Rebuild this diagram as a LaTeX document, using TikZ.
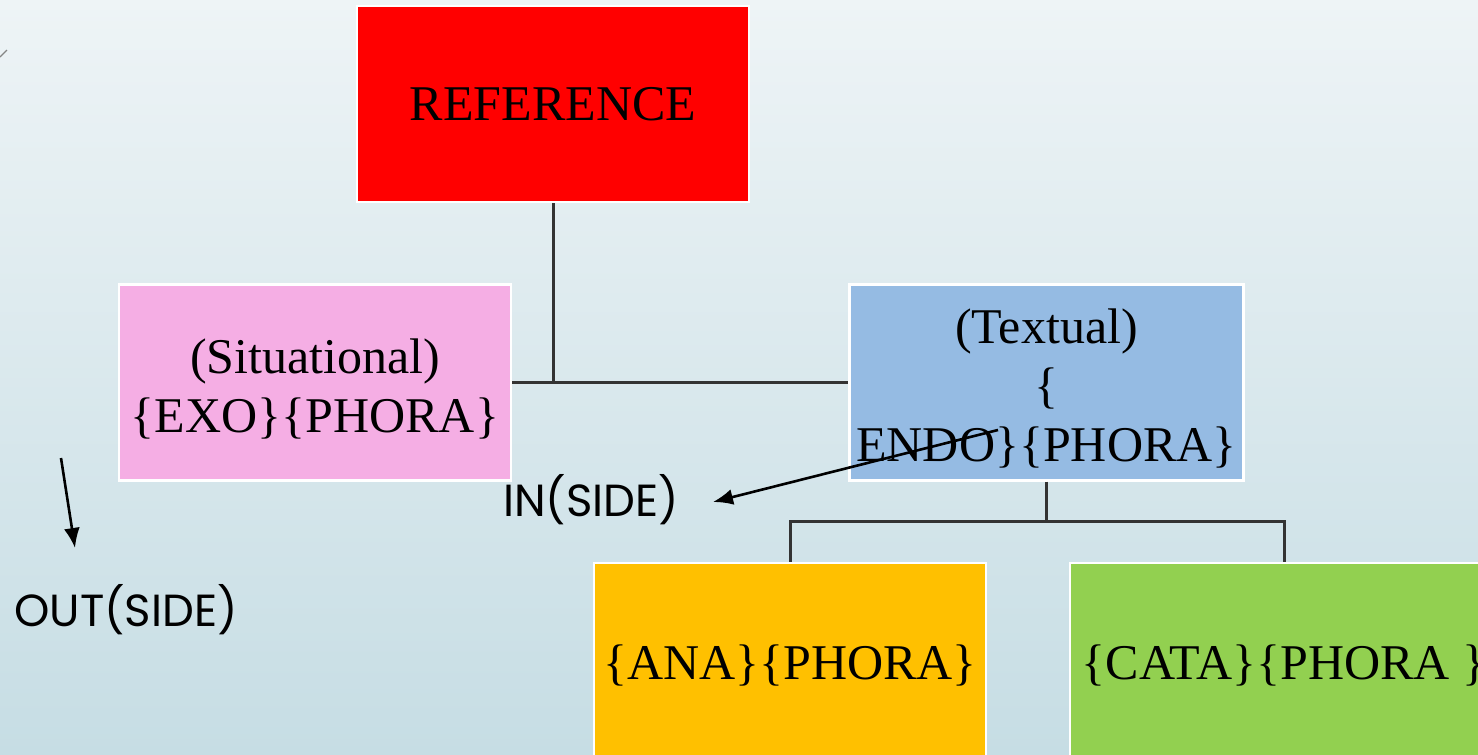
\documentclass[tikz,border=0pt]{standalone}
\usepackage{fontspec}
\setmainfont{Liberation Serif}
\newfontfamily\sidefont{Poppins}
\usetikzlibrary{arrows.meta}
\definecolor{bgtop}{HTML}{EEF4F6}
\definecolor{bgbot}{HTML}{C6DDE4}
\definecolor{refred}{HTML}{FF0000}
\definecolor{exopink}{HTML}{F5AEE4}
\definecolor{endoblue}{HTML}{95BBE3}
\definecolor{anaorange}{HTML}{FFC000}
\definecolor{catagreen}{HTML}{92D050}
\definecolor{linegray}{HTML}{333333}
\newcommand{\lowline}[1]{\raisebox{-3pt}[\height][\depth]{#1}}
\tikzset{
    block/.style = {draw=white, line width=1.2pt, rectangle,
        minimum height=98pt,
        minimum width=196pt, align=center,
        font=\fontsize{25}{29.5}\selectfont},
    link/.style = {draw=linegray, line width=1.5pt},
    arrow/.style = {draw, -{Latex[length=10pt,width=8pt]}, line width=1.3pt},
    side/.style = {font=\sidefont\fontsize{22.5}{27}\selectfont}
}

\begin{document}
\begin{tikzpicture}[x=0.5pt, y=-0.5pt]
        \useasboundingbox (0,0) rectangle (1478,755);
        \shade[top color=bgtop, bottom color=bgbot] (0,0) rectangle (1478,755);
        \clip (0,0) rectangle (1478,755);
        \draw[line width=0.7pt, color=linegray!60] (0,57) -- (7,50);
        \node [block, fill=refred] (ref) at (553,104) {REFERENCE};
        \node [block, fill=exopink] (exo) at (315,382.5) {\lowline{(Situational)}\\\lowline{\{EXO\}\{PHORA\}}};
        \node [block, fill=endoblue] (endo) at (1046.5,382.5) {\lowline{(Textual)}\\\lowline{\{}\\\lowline{ENDO\}\{PHORA\}}};
        \node [block, fill=anaorange, minimum height=102pt] (ana) at (790,665) {\{ANA\}\{PHORA\}};
        \node [block, fill=catagreen, minimum height=102pt, minimum width=214pt] (cata) at (1284,665) {\{CATA\}\{PHORA \}};
        \node [side] (inside) at (591,500) {IN(SIDE)};
        \node [side] (outside) at (126,610) {OUT(SIDE)};
        \coordinate (split) at (1046.5,521);
        \coordinate (endotail) at (998,430);
        \coordinate (intip) at (713,502);
        \coordinate (outtail) at (61,458);
        \coordinate (outtip) at (75,548);
        \draw [link] (ref.south) -- (ref.south |- exo.east);
        \draw [link] (exo.east) -- (endo.west);
        \draw [link] (endo.south) -- (split);
        \draw [link] (ana.north) |- (split) -| (cata.north);
        \draw [arrow] (endotail) -- (intip);
        \draw [arrow] (outtail) -- (outtip);
        \end{tikzpicture}
\end{document}
